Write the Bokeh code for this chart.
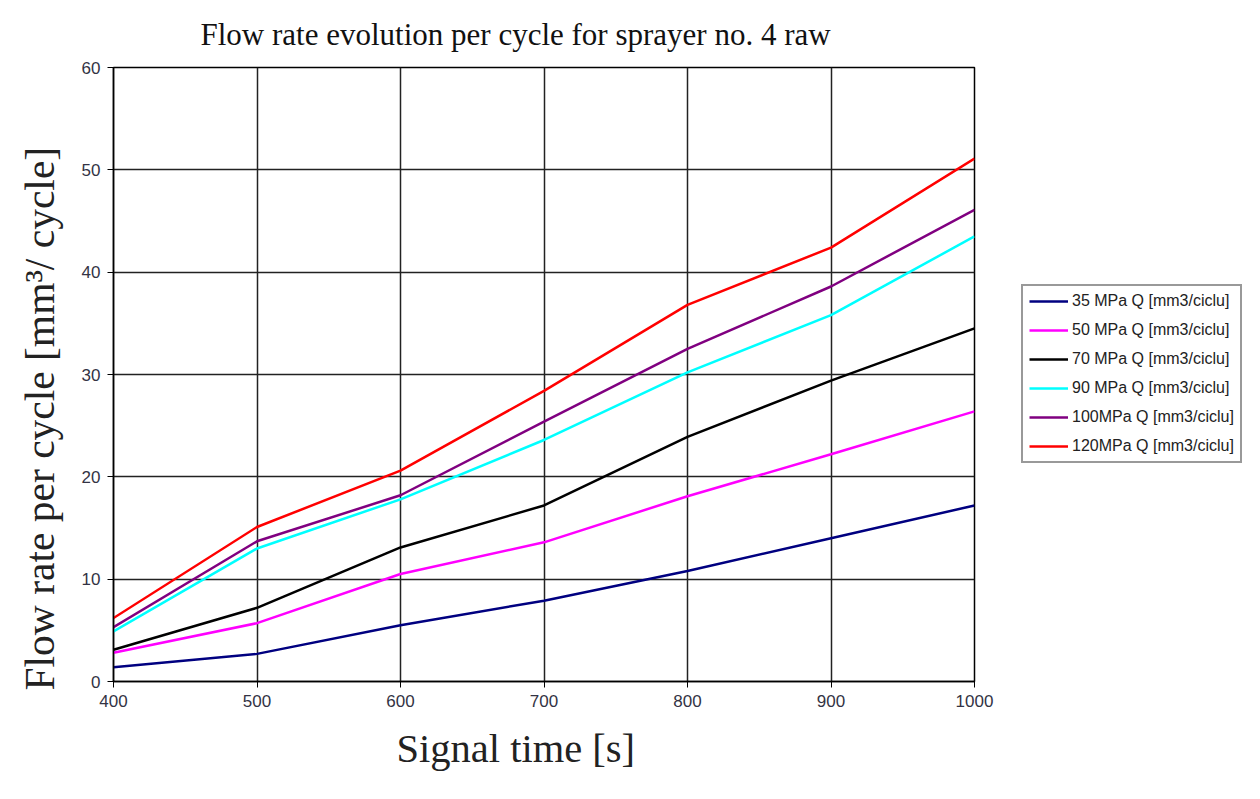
from bokeh.plotting import figure
from bokeh.models import Legend, LegendItem, FixedTicker, Range1d, Title
from bokeh.embed import file_html
from bokeh.resources import INLINE

signal_time = [400, 500, 600, 700, 800, 900, 1000]
q35 = [1.4, 2.7, 5.5, 7.9, 10.8, 14.0, 17.2]
q50 = [2.8, 5.7, 10.5, 13.6, 18.1, 22.2, 26.4]
q70 = [3.1, 7.2, 13.1, 17.2, 23.9, 29.4, 34.5]
q90 = [4.9, 13.0, 17.8, 23.6, 30.2, 35.8, 43.5]
q100 = [5.3, 13.7, 18.2, 25.4, 32.5, 38.6, 46.1]
q120 = [6.2, 15.1, 20.6, 28.4, 36.8, 42.4, 51.1]
series_names = ["35 MPa Q [mm3/ciclu]", "50 MPa Q [mm3/ciclu]", "70 MPa Q [mm3/ciclu]",
                "90 MPa Q [mm3/ciclu]", "100MPa Q [mm3/ciclu]", "120MPa Q [mm3/ciclu]"]
series_values = [q35, q50, q70, q90, q100, q120]
colors = ["#000080", "#FF00FF", "#000000", "#00FFFF", "#800080", "#FF0000"]
x_ticks = [400, 500, 600, 700, 800, 900, 1000]
y_ticks = [0, 10, 20, 30, 40, 50, 60]

p = figure(frame_width=861, frame_height=614, output_backend="svg", toolbar_location=None,
           x_range=Range1d(400, 1000), y_range=Range1d(0, 60),
           min_border_left=113, min_border_right=286, min_border_top=67, min_border_bottom=118)
p.background_fill_color = "white"
p.outline_line_color = "black"
p.outline_line_width = 1.5

t = Title(text="Flow rate evolution per cycle for sprayer no. 4 raw", align="left", offset=87,
          text_font="Liberation Serif", text_font_size="31px", text_font_style="normal",
          text_color="#111111", standoff=28, vertical_align="top")
p.add_layout(t, "above")

for ax in (p.xaxis[0], p.yaxis[0]):
    ax.major_label_text_font = "Liberation Sans"
    ax.major_label_text_font_size = "17px"
    ax.major_label_text_color = "#333344"
    ax.minor_tick_line_color = None
    ax.major_tick_out = 6
    ax.major_tick_in = 0
    ax.axis_line_color = "black"
    ax.axis_line_width = 1.5
    ax.major_tick_line_color = "black"
    ax.major_label_standoff = 7

p.xaxis.ticker = FixedTicker(ticks=x_ticks)
p.yaxis.ticker = FixedTicker(ticks=y_ticks)

xlab = Title(text="Signal time [s]", align="left", offset=283,
             text_font="Liberation Serif", text_font_size="40.5px", text_font_style="normal",
             text_color="#222222", standoff=32, vertical_align="top")
p.add_layout(xlab, "below")

ylab = Title(text="Flow rate per cycle [mm\u00b3/ cycle]", align="left", offset=-9,
             text_font="Liberation Serif", text_font_size="41.5px", text_font_style="normal",
             text_color="#222222", standoff=28, vertical_align="top")
p.add_layout(ylab, "left")

p.grid.grid_line_color = "#222222"
p.grid.grid_line_width = 1.5
p.grid.grid_line_alpha = 1.0
p.xgrid.ticker = FixedTicker(ticks=x_ticks)
p.ygrid.ticker = FixedTicker(ticks=y_ticks)

items = []
for name, vals, c in zip(series_names, series_values, colors):
    r = p.line(signal_time, vals, line_color=c, line_width=2.5)
    items.append(LegendItem(label=name, renderers=[r]))

legend = Legend(items=items, location=(47, 218), orientation="vertical",
                label_text_font="Liberation Sans", label_text_font_size="16px",
                label_text_color="#222222", border_line_color="#333333", border_line_width=2,
                glyph_width=39, glyph_height=16, label_height=16, label_standoff=4, spacing=11,
                padding=6, margin=0, background_fill_color="white")
p.add_layout(legend, "right")

open("out.html", "w").write(file_html(p, INLINE))
